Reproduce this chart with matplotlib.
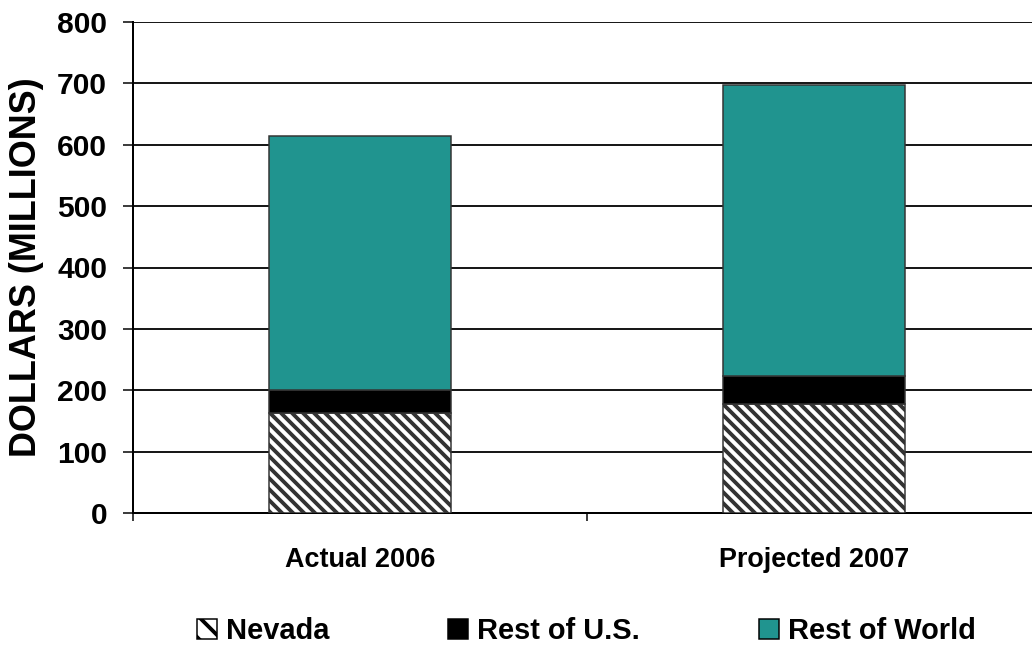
import numpy as np
import matplotlib
matplotlib.use('Agg')
from matplotlib import pyplot as plt
from matplotlib.patches import Patch

########################################################################
# Data
########################################################################

categories = ['Actual 2006', 'Projected 2007']
nevada = [163, 178]
rest_us = [37, 46]
rest_world = [414, 473]
series_names = ['Nevada', 'Rest of U.S.', 'Rest of World']
yticks = [0, 100, 200, 300, 400, 500, 600, 700, 800]

########################################################################
# Style
########################################################################

DPI = 132

def pt(px):
    # pixel size -> points at our dpi
    return px * 72.0 / DPI

TEAL = '#20948F'
EDGE = '#333333'
HATCH = '\\' * 4

plt.rcParams['font.family'] = ['Liberation Sans', 'DejaVu Sans']
plt.rcParams['font.weight'] = 'bold'
plt.rcParams['hatch.linewidth'] = 2.1
plt.rcParams['hatch.color'] = 'black'

fig = plt.figure(figsize=(1032 / DPI, 645 / DPI), dpi=DPI)
ax = fig.add_axes([133 / 1032, 1 - 513 / 645, (1041 - 133) / 1032, (513 - 22) / 645])

x = np.arange(len(categories))
width = 0.4
bottom2 = np.array(nevada) + np.array(rest_us)

ax.bar(x, nevada, width, color='white', edgecolor=EDGE, hatch=HATCH,
       linewidth=pt(1.5), zorder=3, label=series_names[0])
ax.bar(x, rest_us, width, bottom=nevada, color='black', edgecolor=EDGE,
       linewidth=pt(1.5), zorder=3, label=series_names[1])
ax.bar(x, rest_world, width, bottom=bottom2, color=TEAL, edgecolor=EDGE,
       linewidth=pt(1.5), zorder=3, label=series_names[2])

ax.set_xlim(-0.5, 1.5)
ax.set_ylim(0, 800)
ax.set_yticks(yticks)
ax.set_yticklabels([str(v) for v in yticks], fontsize=pt(30), fontweight='bold')
ax.set_xticks(x)
ax.set_xticklabels(categories, fontsize=pt(27), fontweight='bold')
ax.set_xticks([-0.5, 0.5, 1.5], minor=True)
ax.tick_params(axis='x', which='major', length=0, pad=pt(34))
ax.tick_params(axis='x', which='minor', length=pt(8), width=pt(1.5), direction='out')
ax.tick_params(axis='y', length=pt(10), width=pt(1.5), direction='out', pad=pt(16))

ax.grid(True, axis='y', color='black', linewidth=pt(1.8), zorder=0)
ax.set_axisbelow(True)

for s in ['top', 'right']:
    ax.spines[s].set_visible(False)
ax.spines['left'].set_linewidth(pt(2))
ax.spines['bottom'].set_linewidth(pt(2))

ax.set_ylabel('DOLLARS (MILLIONS)', fontsize=pt(36), fontweight='bold')
ax.yaxis.set_label_coords(-(133 - 44) / 908, 0.5)

handles = [Patch(facecolor='white', edgecolor='black', hatch='\\\\', linewidth=pt(1.5)),
           Patch(facecolor='black', edgecolor='black', linewidth=pt(1.5)),
           Patch(facecolor=TEAL, edgecolor='black', linewidth=pt(1.5))]
fig.legend(handles, series_names, loc='center', bbox_to_anchor=(586 / 1032, 1 - 631 / 645),
           ncol=3, frameon=False, prop={'size': pt(29), 'weight': 'bold'},
           handlelength=0.7, handleheight=0.7, handletextpad=0.3,
           columnspacing=4.1, borderpad=0)

plt.savefig('out.png', dpi=DPI)
